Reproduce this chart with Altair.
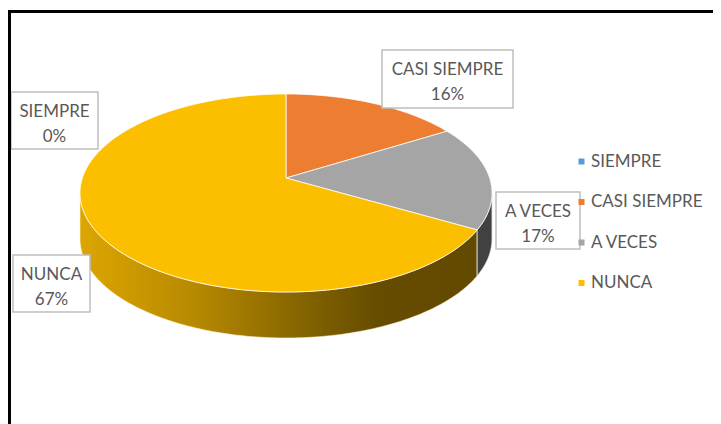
import math
import altair as alt
import pandas as pd

categories = ["SIEMPRE", "CASI SIEMPRE", "A VECES", "NUNCA"]
percent = [0, 16, 17, 67]
colors = ["#5B9BD5", "#ED7D31", "#A5A5A5", "#FCBF00"]
percent_labels = ["0%", "16%", "17%", "67%"]

# Layout of the tilted pie, in picture pixels
CX, CY, RX, RY, APEX_Y, DEPTH, K = 286, 193, 206, 99, 178, 46, 0.875


def rim(share_deg):
    """Rim point of the tilted pie for a cumulative angle (perspective foreshortened)."""
    h = math.radians(share_deg) / 2
    t = 2 * math.atan2(K * math.sin(h), math.cos(h))
    return CX + RX * math.sin(t), CY - RY * math.cos(t)


def unrim(t_deg):
    h = math.radians(t_deg) / 2
    return math.degrees(2 * math.atan2(math.sin(h), K * math.cos(h)))


top_rows, side_rows = [], []
cum = 0
for cat, p in zip(categories, percent):
    a0, a1 = cum * 3.6, (cum + p) * 3.6
    cum += p
    pts = [(CX, APEX_Y)]
    n = max(1, int(a1 - a0))
    pts += [rim(a0 + (a1 - a0) * i / n) for i in range(n + 1)]
    pts.append((CX, APEX_Y))
    for i, (x, y) in enumerate(pts):
        top_rows.append({"cat": cat, "o": i, "x": x, "y": y})

    # Visible wall: the front half of the rim only
    s0, s1 = max(a0, unrim(90)), min(a1, unrim(270))
    if s1 > s0:
        n = max(1, int(s1 - s0))
        front = [rim(s0 + (s1 - s0) * i / n) for i in range(n + 1)]
        wall = front + [(x, y + DEPTH) for x, y in reversed(front)] + front[:1]
        for i, (x, y) in enumerate(wall):
            side_rows.append({"cat": cat, "o": i, "x": x, "y": y})

top = pd.DataFrame(top_rows)
side = pd.DataFrame(side_rows)

xs = alt.Scale(domain=[8, 713], nice=False, zero=False)
ys = alt.Scale(domain=[424, 8], nice=False, zero=False)
X = alt.X("x:Q", scale=xs, axis=None)
Y = alt.Y("y:Q", scale=ys, axis=None)

wall_gradient = alt.LinearGradient(
    gradient="linear", x1=0, x2=1, y1=0, y2=0,
    stops=[
        alt.GradientStop(offset=0, color="#DCA600"),
        alt.GradientStop(offset=0.3, color="#B58800"),
        alt.GradientStop(offset=0.62, color="#7A5C00"),
        alt.GradientStop(offset=0.75, color="#654C00"),
        alt.GradientStop(offset=1, color="#634A00"),
    ],
)

wall_yellow = alt.Chart(side[side.cat == "NUNCA"]).mark_line(
    fill=wall_gradient, stroke="#FFF4D6", strokeWidth=0.6
).encode(x=X, y=Y, order="o:Q")
wall_gray = alt.Chart(side[side.cat == "A VECES"]).mark_line(
    fill="#414141", stroke="#E4E4E4", strokeWidth=0.8
).encode(x=X, y=Y, order="o:Q")

faces = alt.Chart(top).mark_line(stroke="#FFFFFF", strokeWidth=1, strokeOpacity=0.75).encode(
    x=X,
    y=Y,
    order="o:Q",
    detail="cat:N",
    fill=alt.Fill(
        "cat:N",
        scale=alt.Scale(domain=categories, range=colors),
        legend=alt.Legend(
            orient="none",
            legendX=565,
            legendY=145,
            title=None,
            symbolType="square",
            symbolSize=36,
            symbolStrokeWidth=0,
            labelFont="Lato",
            labelFontSize=17,
            labelColor="#595959",
            labelOffset=1,
            rowPadding=22.5,
            padding=0,
        ),
    ),
)

labels = pd.DataFrame({
    "cat": categories,
    "pct": percent_labels,
    "x0": [11, 382, 496, 13],
    "x1": [98, 513, 580, 90],
    "y0": [92, 50, 192, 255],
    "y1": [149, 108, 249, 312],
})
labels["xc"] = (labels.x0 + labels.x1) / 2
labels["yn"] = labels.y0 + 19.5
labels["yp"] = labels.y0 + 44.5

boxes = alt.Chart(labels).mark_rect(fill="#FFFFFF", stroke="#BFBFBF", strokeWidth=1.5).encode(
    x=alt.X("x0:Q", scale=xs, axis=None), x2="x1:Q",
    y=alt.Y("y0:Q", scale=ys, axis=None), y2="y1:Q",
)
name_text = alt.Chart(labels).mark_text(
    font="Lato", fontSize=17, color="#595959", baseline="middle"
).encode(x=alt.X("xc:Q", scale=xs, axis=None), y=alt.Y("yn:Q", scale=ys, axis=None), text="cat:N")
pct_text = alt.Chart(labels).mark_text(
    font="Lato", fontSize=17, color="#595959", baseline="middle"
).encode(x=alt.X("xc:Q", scale=xs, axis=None), y=alt.Y("yp:Q", scale=ys, axis=None), text="pct:N")

frame_top = alt.Chart(pd.DataFrame({"a": [8], "b": [713], "y": [11.5]})).mark_rule(
    color="#000000", strokeWidth=3
).encode(x=alt.X("a:Q", scale=xs, axis=None), x2="b:Q", y=alt.Y("y:Q", scale=ys, axis=None))
frame_left = alt.Chart(pd.DataFrame({"x": [9.5], "a": [10], "b": [424]})).mark_rule(
    color="#000000", strokeWidth=3
).encode(x=alt.X("x:Q", scale=xs, axis=None), y=alt.Y("a:Q", scale=ys, axis=None), y2="b:Q")

chart = alt.layer(
    wall_yellow, wall_gray, faces, boxes, name_text, pct_text, frame_top, frame_left
).properties(
    width=705, height=416, padding=0, autosize=alt.AutoSizeParams(type="none"), background="#FFFFFF"
).configure_view(stroke=None)

chart.save("out.html", embed_options={"renderer": "svg", "actions": False})
